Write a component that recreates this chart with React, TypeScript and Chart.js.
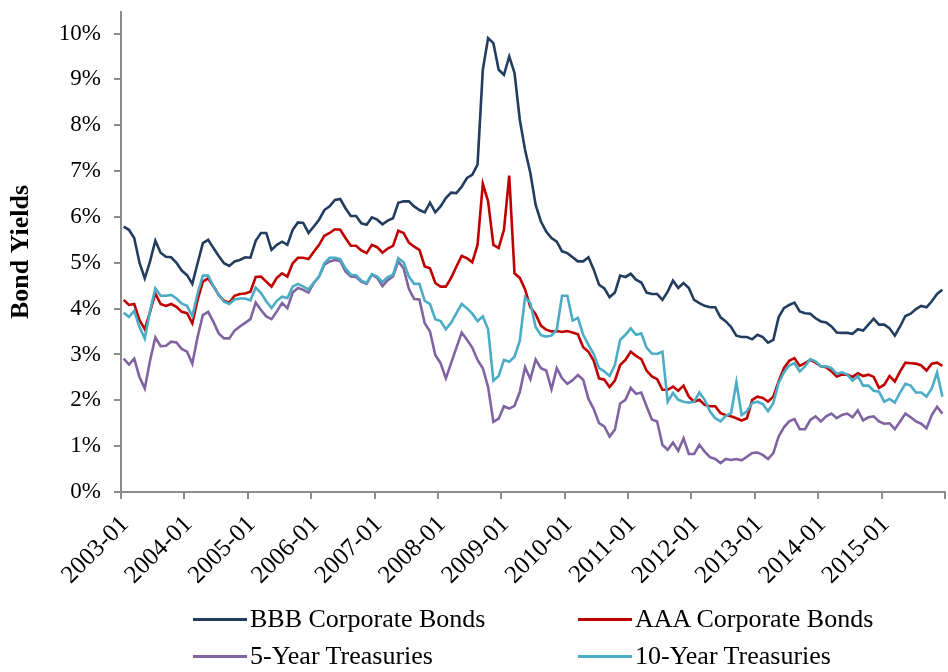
import React, { useEffect, useRef } from 'react';
import { Chart, registerables } from 'chart.js';

Chart.register(...registerables);

// Tick labels on the x axis (one per January)
const tickLabels = [
  '2003-01', '2004-01', '2005-01', '2006-01', '2007-01', '2008-01', '2009-01',
  '2010-01', '2011-01', '2012-01', '2013-01', '2014-01', '2015-01',
];
const yTicks = [0, 1, 2, 3, 4, 5, 6, 7, 8, 9, 10];

// Monthly yields (%), 2003-01 .. 2015-12
const bbb = [
  5.79, 5.72, 5.54, 5.00, 4.66, 5.03, 5.48, 5.22, 5.13, 5.12, 5.00, 4.83,
  4.73, 4.54, 4.99, 5.43, 5.50, 5.32, 5.15, 4.99, 4.93, 5.03, 5.06, 5.12,
  5.11, 5.48, 5.65, 5.65, 5.28, 5.39, 5.46, 5.39, 5.72, 5.88, 5.87, 5.65,
  5.79, 5.94, 6.15, 6.23, 6.37, 6.39, 6.19, 6.02, 6.02, 5.86, 5.83, 5.99,
  5.94, 5.84, 5.92, 5.97, 6.31, 6.34, 6.34, 6.23, 6.15, 6.10, 6.31, 6.10,
  6.23, 6.41, 6.53, 6.52, 6.66, 6.85, 6.92, 7.14, 9.21, 9.90, 9.79, 9.21,
  9.10, 9.50, 9.14, 8.12, 7.46, 6.96, 6.26, 5.90, 5.68, 5.54, 5.46, 5.25,
  5.21, 5.12, 5.03, 5.03, 5.12, 4.85, 4.52, 4.44, 4.25, 4.35, 4.72, 4.69,
  4.76, 4.63, 4.57, 4.35, 4.32, 4.32, 4.19, 4.37, 4.61, 4.45, 4.56, 4.45,
  4.19, 4.12, 4.06, 4.03, 4.03, 3.81, 3.72, 3.60, 3.41, 3.38, 3.38, 3.33,
  3.43, 3.38, 3.26, 3.32, 3.81, 4.01, 4.08, 4.13, 3.94, 3.90, 3.89, 3.79,
  3.72, 3.70, 3.61, 3.48, 3.47, 3.47, 3.45, 3.55, 3.52, 3.65, 3.78, 3.65,
  3.65, 3.57, 3.41, 3.61, 3.84, 3.89, 3.99, 4.06, 4.03, 4.16, 4.32, 4.41,
];

const aaa = [
  4.19, 4.08, 4.10, 3.75, 3.55, 3.93, 4.33, 4.10, 4.06, 4.10, 4.04, 3.93,
  3.90, 3.68, 4.19, 4.59, 4.66, 4.49, 4.30, 4.17, 4.13, 4.28, 4.32, 4.33,
  4.37, 4.69, 4.70, 4.59, 4.48, 4.67, 4.77, 4.70, 4.99, 5.11, 5.11, 5.08,
  5.24, 5.39, 5.59, 5.65, 5.73, 5.72, 5.54, 5.37, 5.37, 5.27, 5.21, 5.39,
  5.34, 5.22, 5.31, 5.37, 5.70, 5.65, 5.44, 5.35, 5.28, 4.92, 4.88, 4.56,
  4.48, 4.48, 4.67, 4.92, 5.15, 5.10, 5.01, 5.39, 6.72, 6.34, 5.39, 5.32,
  5.72, 6.90, 4.77, 4.67, 4.42, 4.03, 3.88, 3.63, 3.54, 3.50, 3.51, 3.49,
  3.51, 3.48, 3.44, 3.16, 3.06, 2.86, 2.48, 2.45, 2.29, 2.43, 2.77, 2.88,
  3.06, 2.97, 2.90, 2.65, 2.52, 2.46, 2.23, 2.23, 2.30, 2.21, 2.32, 2.08,
  1.97, 2.01, 1.90, 1.87, 1.87, 1.72, 1.68, 1.65, 1.61, 1.56, 1.61, 2.01,
  2.08, 2.05, 1.97, 2.08, 2.41, 2.70, 2.86, 2.92, 2.75, 2.81, 2.88, 2.82,
  2.74, 2.72, 2.63, 2.52, 2.56, 2.56, 2.51, 2.59, 2.53, 2.56, 2.51, 2.27,
  2.34, 2.53, 2.41, 2.63, 2.82, 2.81, 2.80, 2.76, 2.65, 2.80, 2.82, 2.75,
];

const treas5 = [
  2.91, 2.78, 2.91, 2.51, 2.26, 2.87, 3.37, 3.18, 3.19, 3.28, 3.26, 3.12,
  3.06, 2.80, 3.38, 3.86, 3.93, 3.71, 3.46, 3.35, 3.35, 3.52, 3.61, 3.69,
  3.77, 4.13, 3.97, 3.83, 3.77, 3.94, 4.12, 4.01, 4.35, 4.45, 4.41, 4.35,
  4.56, 4.70, 4.96, 5.03, 5.06, 5.04, 4.81, 4.70, 4.69, 4.59, 4.54, 4.74,
  4.67, 4.49, 4.62, 4.70, 5.03, 4.88, 4.43, 4.21, 4.20, 3.68, 3.50, 2.99,
  2.81, 2.48, 2.81, 3.15, 3.48, 3.32, 3.15, 2.88, 2.70, 2.29, 1.53, 1.60,
  1.87, 1.82, 1.88, 2.18, 2.72, 2.46, 2.89, 2.70, 2.65, 2.24, 2.70, 2.48,
  2.36, 2.44, 2.55, 2.45, 2.03, 1.81, 1.50, 1.43, 1.21, 1.36, 1.93, 2.01,
  2.27, 2.14, 2.17, 1.87, 1.58, 1.54, 1.03, 0.92, 1.08, 0.90, 1.17, 0.83,
  0.83, 1.03, 0.88, 0.76, 0.72, 0.63, 0.72, 0.70, 0.72, 0.69, 0.77, 0.85,
  0.86, 0.81, 0.72, 0.85, 1.21, 1.41, 1.54, 1.59, 1.37, 1.37, 1.57, 1.65,
  1.54, 1.65, 1.71, 1.61, 1.68, 1.71, 1.63, 1.78, 1.56, 1.63, 1.65, 1.54,
  1.49, 1.50, 1.37, 1.54, 1.71, 1.63, 1.54, 1.49, 1.39, 1.68, 1.86, 1.71,
];

const treas10 = [
  3.91, 3.82, 3.95, 3.60, 3.35, 3.95, 4.44, 4.28, 4.28, 4.30, 4.22, 4.11,
  4.06, 3.84, 4.33, 4.72, 4.72, 4.49, 4.30, 4.15, 4.10, 4.20, 4.22, 4.22,
  4.18, 4.46, 4.34, 4.16, 4.01, 4.17, 4.26, 4.23, 4.48, 4.54, 4.48, 4.42,
  4.57, 4.70, 4.99, 5.11, 5.11, 5.08, 4.88, 4.74, 4.73, 4.61, 4.56, 4.75,
  4.70, 4.58, 4.69, 4.74, 5.10, 5.01, 4.70, 4.54, 4.54, 4.17, 4.10, 3.77,
  3.73, 3.55, 3.69, 3.90, 4.10, 4.01, 3.89, 3.73, 3.83, 3.55, 2.43, 2.53,
  2.88, 2.84, 2.95, 3.30, 4.25, 4.12, 3.60, 3.42, 3.39, 3.41, 3.54, 4.28,
  4.28, 3.74, 3.80, 3.43, 3.21, 3.01, 2.70, 2.63, 2.53, 2.77, 3.32, 3.43,
  3.57, 3.43, 3.46, 3.15, 3.02, 3.01, 3.06, 1.97, 2.16, 2.01, 1.97, 1.95,
  1.97, 2.17, 2.01, 1.76, 1.61, 1.54, 1.66, 1.72, 2.39, 1.68, 1.76, 1.94,
  1.97, 1.92, 1.76, 1.94, 2.38, 2.61, 2.76, 2.81, 2.63, 2.74, 2.90, 2.85,
  2.74, 2.74, 2.70, 2.58, 2.61, 2.56, 2.43, 2.53, 2.32, 2.32, 2.21, 2.19,
  1.97, 2.03, 1.95, 2.17, 2.36, 2.32, 2.17, 2.17, 2.08, 2.26, 2.61, 2.08,
];

const seriesNames = ['BBB Corporate Bonds', 'AAA Corporate Bonds', '5-Year Treasuries', '10-Year Treasuries'];
const seriesColors = ['#233d5e', '#c00000', '#8064a2', '#4bacc6'];

const FONT = "'Liberation Serif', 'Times New Roman', serif";
const AXIS_COLOR = '#8c8c8c';

export default function App() {
  const ref = useRef<HTMLCanvasElement | null>(null);

  useEffect(() => {
    document.body.style.margin = '0';
    const canvas = ref.current;
    if (!canvas) return;
    const toPoints = (arr: number[]) => arr.map((y, i) => ({ x: i + 0.5, y }));
    const all = [bbb, aaa, treas5, treas10];
    const chart = new Chart(canvas, {
      type: 'line',
      data: {
        datasets: all.map((arr, k) => ({
          label: seriesNames[k],
          data: toPoints(arr),
          borderColor: seriesColors[k],
          backgroundColor: seriesColors[k],
          borderWidth: 2.6,
          pointRadius: 0,
          tension: 0,
          fill: false,
          order: 4 - k,
        })),
      },
      options: {
        animation: false,
        responsive: false,
        devicePixelRatio: 1,
        layout: { padding: { left: 0, right: 3, top: 12, bottom: 0 } },
        plugins: {
          legend: { display: false },
          tooltip: { enabled: false },
        },
        scales: {
          x: {
            type: 'linear',
            min: 0,
            max: 156,
            afterBuildTicks: (scale: any) => {
              const t = tickLabels.map((_, i) => ({ value: i * 12 }));
              t.push({ value: 156 });
              scale.ticks = t;
            },
            afterFit: (scale: any) => {
              scale.height = 180;
              scale.paddingLeft = 0;
              scale.paddingRight = 0;
            },
            ticks: {
              autoSkip: false,
              minRotation: 45,
              maxRotation: 45,
              padding: 11,
              labelOffset: 4,
              color: '#000',
              font: { family: FONT, size: 25 },
              callback: (v: any) => {
                const idx = Math.round(Number(v) / 12);
                return tickLabels[idx] ?? '';
              },
            },
            grid: {
              drawOnChartArea: false,
              drawTicks: true,
              tickLength: 7,
              color: AXIS_COLOR,
              lineWidth: 2,
            },
            border: { display: true, color: AXIS_COLOR, width: 2 },
          },
          y: {
            min: 0,
            max: 10.47,
            afterBuildTicks: (scale: any) => {
              scale.ticks = yTicks.map((v) => ({ value: v }));
            },
            afterFit: (scale: any) => {
              scale.width = 121;
              scale.paddingTop = 0;
              scale.paddingBottom = 0;
            },
            ticks: {
              padding: 13,
              color: '#000',
              font: { family: FONT, size: 23 },
              callback: (v: any) => `${v}%`,
            },
            grid: {
              drawOnChartArea: false,
              drawTicks: true,
              tickLength: 7,
              color: AXIS_COLOR,
              lineWidth: 2,
            },
            border: { display: true, color: AXIS_COLOR, width: 2 },
            title: {
              display: true,
              text: 'Bond Yields',
              color: '#000',
              font: { family: FONT, size: 26, weight: 'bold' },
              padding: { top: 6, bottom: 0 },
            },
          },
        },
      },
    });
    return () => chart.destroy();
  }, []);

  const legendPos = [
    { left: 193, top: 619 },
    { left: 578, top: 619 },
    { left: 193, top: 656 },
    { left: 578, top: 656 },
  ];

  return (
    <div style={{ position: 'relative', width: 948, height: 672, background: '#fff', overflow: 'hidden' }}>
      <canvas ref={ref} width={948} height={672} style={{ display: 'block', width: 948, height: 672 }} />
      {seriesNames.map((name, k) => (
        <div
          key={name}
          style={{
            position: 'absolute',
            left: legendPos[k].left,
            top: legendPos[k].top - 16,
            height: 32,
            display: 'flex',
            alignItems: 'center',
            fontFamily: FONT,
            fontSize: 26,
            color: '#000',
            whiteSpace: 'nowrap',
          }}
        >
          <span style={{ display: 'inline-block', width: 54, height: 3, background: seriesColors[k], marginRight: 3 }} />
          <span>{name}</span>
        </div>
      ))}
    </div>
  );
}
